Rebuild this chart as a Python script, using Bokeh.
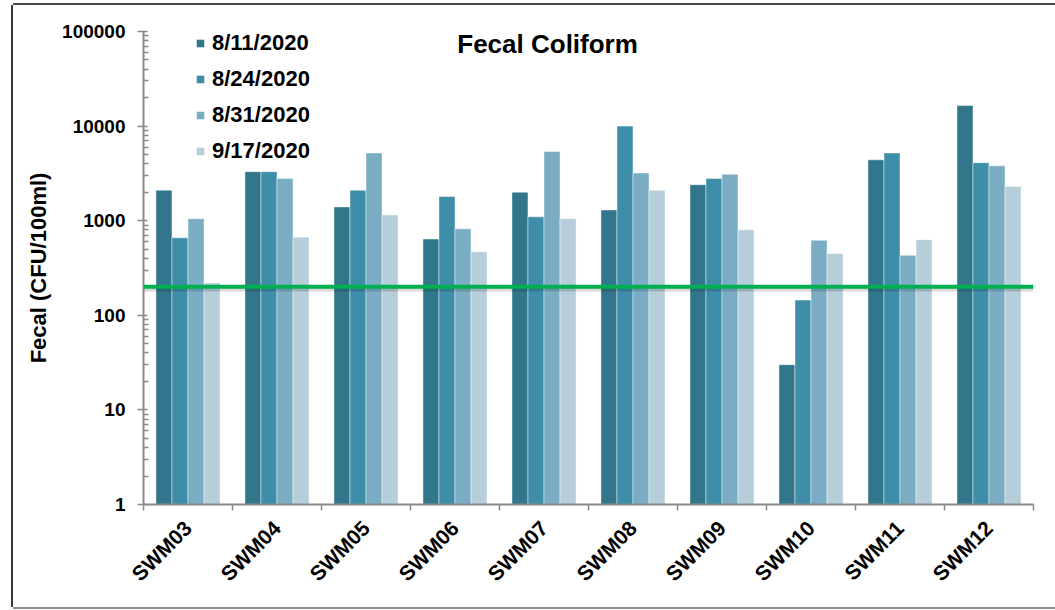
from math import pi

from bokeh.plotting import figure
from bokeh.models import (Range1d, FixedTicker, Span, Legend, LegendItem, Label,
                          ColumnDataSource)
from bokeh.embed import file_html
from bokeh.resources import INLINE

# Fecal coliform counts (CFU/100ml) per monitoring site and sampling date
sites = ["SWM03", "SWM04", "SWM05", "SWM06", "SWM07",
         "SWM08", "SWM09", "SWM10", "SWM11", "SWM12"]
dates = ["8/11/2020", "8/24/2020", "8/31/2020", "9/17/2020"]
fecal_0811 = [2100, 3300, 1400, 640, 2000, 1300, 2400, 30, 4400, 16500]
fecal_0824 = [660, 3300, 2100, 1800, 1100, 10000, 2800, 145, 5200, 4100]
fecal_0831 = [1050, 2800, 5200, 820, 5400, 3200, 3100, 620, 430, 3800]
fecal_0917 = [220, 670, 1150, 470, 1050, 2100, 800, 450, 630, 2300]
threshold = 200
y_ticks = [1, 10, 100, 1000, 10000, 100000]

series = [fecal_0811, fecal_0824, fecal_0831, fecal_0917]
colors = ["#32768C", "#3E8EAA", "#7AADC4", "#B5CEDA"]
offsets = [-0.27, -0.09, 0.09, 0.27]
bar_width = 0.18

FONT = "Liberation Sans"
AXIS_GRAY = "#8a8a8a"

p = figure(width=1042, height=602,
           x_range=Range1d(0, len(sites)), y_range=Range1d(1, 100000),
           y_axis_type="log", output_backend="svg", toolbar_location=None,
           min_border_left=130, min_border_right=22,
           min_border_top=26, min_border_bottom=103)
p.outline_line_color = None
p.grid.visible = False
p.background_fill_color = "white"
p.border_fill_color = "white"
# chart frame: thin strips on the left, top and bottom of the figure
p.styles = {
    "margin-left": "13px",
    "margin-top": "5px",
    "box-shadow": "-2px 0 0 #3a3a3a, 0 -2px 0 #4a4a4a, 0 2px 0 #8c8c8c",
}

items = []
for k, (vals, col, label) in enumerate(zip(series, colors, dates)):
    src = ColumnDataSource(dict(
        x=[i + 0.5 + offsets[k] for i in range(len(sites))],
        top=vals,
    ))
    r = p.vbar(x="x", top="top", bottom=1, width=bar_width, source=src,
               fill_color=col, line_color="white", line_alpha=0.45, line_width=1)
    items.append(LegendItem(label=label, renderers=[r]))

# threshold line with a soft shadow underneath
p.add_layout(Span(location=threshold / 1.07, dimension="width",
                  line_color="black", line_alpha=0.15, line_width=4))
p.add_layout(Span(location=threshold, dimension="width",
                  line_color="#00B050", line_width=4))

# y axis (log)
ya = p.yaxis[0]
minor = [m * d for d in y_ticks[:-1] for m in range(2, 10)]
ya.ticker = FixedTicker(ticks=y_ticks, minor_ticks=minor)
ya.major_label_overrides = {t: str(t) for t in y_ticks}
ya.axis_label = "Fecal (CFU/100ml)"
ya.axis_label_text_font = FONT
ya.axis_label_text_font_style = "bold"
ya.axis_label_text_font_size = "22px"
ya.axis_label_text_color = "black"
ya.axis_label_standoff = 8
ya.major_label_text_font = FONT
ya.major_label_text_font_style = "bold"
ya.major_label_text_font_size = "19px"
ya.major_label_text_color = "black"
ya.major_label_standoff = 12
ya.axis_line_color = AXIS_GRAY
ya.axis_line_width = 2
ya.major_tick_line_color = AXIS_GRAY
ya.major_tick_line_width = 1.5
ya.major_tick_out = 6
ya.major_tick_in = 4
ya.minor_tick_line_color = AXIS_GRAY
ya.minor_tick_line_width = 1.5
ya.minor_tick_out = 0
ya.minor_tick_in = 5

# x axis: labels at category centres, tick marks at category boundaries
xa = p.xaxis[0]
centres = [i + 0.5 for i in range(len(sites))]
xa.ticker = FixedTicker(ticks=centres, minor_ticks=list(range(len(sites) + 1)))
xa.major_label_overrides = {c: s for c, s in zip(centres, sites)}
xa.major_label_orientation = pi / 4
xa.major_label_text_font = FONT
xa.major_label_text_font_style = "bold"
xa.major_label_text_font_size = "21px"
xa.major_label_text_color = "black"
xa.major_label_standoff = 14
xa.major_tick_line_color = None
xa.major_tick_out = 0
xa.major_tick_in = 0
xa.minor_tick_line_color = AXIS_GRAY
xa.minor_tick_line_width = 1.5
xa.minor_tick_out = 6
xa.minor_tick_in = 0
xa.axis_line_color = AXIS_GRAY
xa.axis_line_width = 2

# legend inside the plot area, top left
legend = Legend(items=items, location=(52, 340), orientation="vertical",
                margin=0, padding=0, spacing=10, label_height=24,
                glyph_width=10, glyph_height=10, label_standoff=7,
                label_text_font=FONT, label_text_font_style="bold",
                label_text_font_size="22px", label_text_color="black",
                background_fill_alpha=0, border_line_color=None)
p.add_layout(legend)

# chart title
p.add_layout(Label(x=4.54, y=74000, text="Fecal Coliform",
                   text_align="center", text_baseline="middle",
                   text_font=FONT, text_font_style="bold",
                   text_font_size="26px", text_color="black"))

open("out.html", "w").write(file_html(p, INLINE))
